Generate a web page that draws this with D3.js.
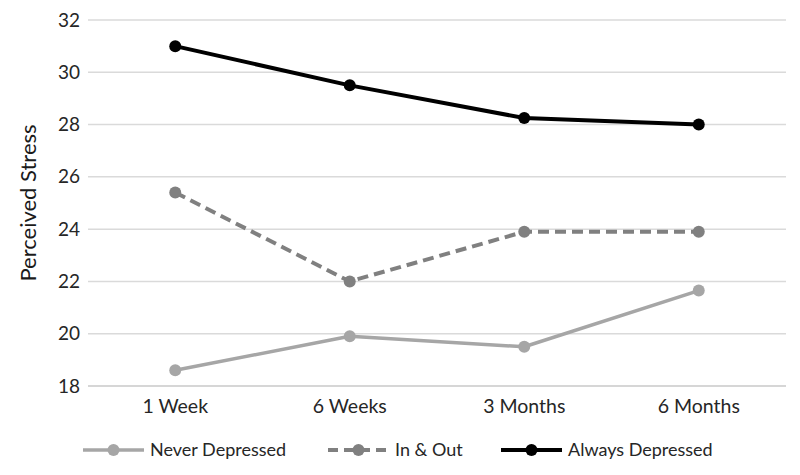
<!DOCTYPE html>
<html><head><meta charset="utf-8">
<script src="https://cdn.jsdelivr.net/npm/d3@7"></script>
<style>body{margin:0;background:#fff}</style>
</head><body><svg id="c" width="800" height="475"></svg>
<script>
const categories = ["1 Week", "6 Weeks", "3 Months", "6 Months"];
const neverDepressed = [18.6, 19.9, 19.5, 21.65];
const inAndOut = [25.4, 22.0, 23.9, 23.9];
const alwaysDepressed = [31.0, 29.5, 28.25, 28.0];
const yTicks = [18, 20, 22, 24, 26, 28, 30, 32];
const seriesNames = ["Never Depressed", "In & Out", "Always Depressed"];

const series = [
  {name: seriesNames[0], values: neverDepressed, color: "#a6a6a6", dash: null, w: 3.5},
  {name: seriesNames[1], values: inAndOut, color: "#808080", dash: "11,6", w: 4},
  {name: seriesNames[2], values: alwaysDepressed, color: "#000000", dash: null, w: 4}
];

const svg = d3.select("#c");
const font = "Lato, 'Open Sans', sans-serif";
const x = d3.scaleBand().domain(categories).range([88, 786]);
const y = d3.scaleLinear().domain([18, 32]).range([386, 20]);

// gridlines
svg.append("g").selectAll("line").data(yTicks).join("line")
  .attr("x1", 88).attr("x2", 786)
  .attr("y1", d => y(d)).attr("y2", d => y(d))
  .attr("stroke", d => d === 18 ? "#c8c8c8" : "#dadada").attr("stroke-width", 1.5);

// y axis labels
const yAxis = d3.axisLeft(y).tickValues(yTicks).tickSize(0).tickPadding(0);
const gy = svg.append("g").attr("transform", "translate(80,0)").call(yAxis);
gy.select(".domain").remove();
gy.selectAll("text").attr("font-family", font).attr("font-size", 19).attr("fill", "#262626");

// x axis labels
const xAxis = d3.axisBottom(x).tickSize(0).tickPadding(0);
const gx = svg.append("g").attr("transform", "translate(0,399)").call(xAxis);
gx.select(".domain").remove();
gx.selectAll("text").attr("font-family", font).attr("font-size", 19.5).attr("fill", "#262626");

// y title
svg.append("text").attr("transform", "translate(36,203) rotate(-90)")
  .attr("text-anchor", "middle").attr("font-family", font).attr("font-size", 22)
  .attr("fill", "#1a1a1a").text("Perceived Stress");

const cx = c => x(c) + x.bandwidth() / 2;
const line = d3.line().x((d, i) => cx(categories[i])).y(d => y(d));

series.forEach(s => {
  svg.append("path").datum(s.values).attr("d", line)
    .attr("fill", "none").attr("stroke", s.color).attr("stroke-width", s.w)
    .attr("stroke-dasharray", s.dash).attr("stroke-linejoin", "round");
  svg.append("g").selectAll("circle").data(s.values).join("circle")
    .attr("cx", (d, i) => cx(categories[i])).attr("cy", d => y(d))
    .attr("r", 6).attr("fill", s.color);
});

// legend
const legX = [83, 328, 501];
const lg = svg.append("g");
series.forEach((s, i) => {
  const g = lg.append("g").attr("transform", `translate(${legX[i]},450)`);
  g.append("line").attr("x1", 0).attr("x2", 61).attr("y1", 0).attr("y2", 0)
    .attr("stroke", s.color).attr("stroke-width", s.w)
    .attr("stroke-dasharray", s.dash ? "10,6" : null);
  g.append("circle").attr("cx", 30.5).attr("cy", 0).attr("r", 6).attr("fill", s.color);
  g.append("text").attr("x", 67).attr("y", 0).attr("dy", "0.35em")
    .attr("font-family", font).attr("font-size", 18).attr("fill", "#262626").text(s.name);
});
</script></body></html>
